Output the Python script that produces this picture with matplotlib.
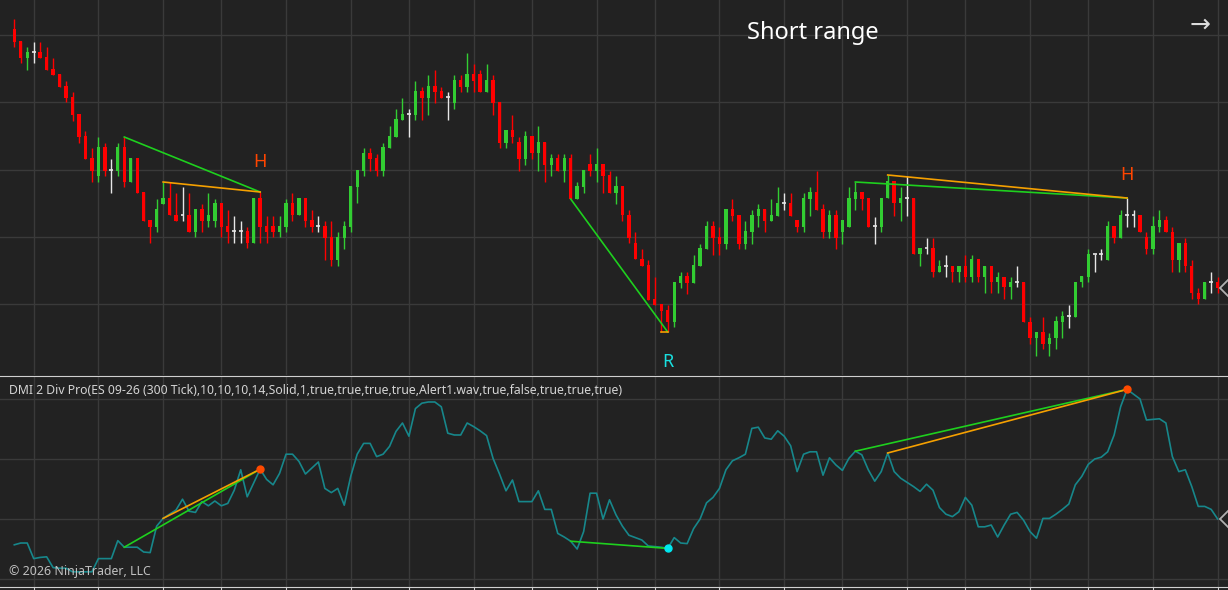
import matplotlib
matplotlib.use("Agg")
import matplotlib.pyplot as plt
import numpy as np

plt.rcParams['font.family'] = ['Noto Sans', 'DejaVu Sans']

# ES 09-26 (300 Tick) bars
opens = [6692.75, 6689.75, 6685.5, 6687, 6687, 6685.75, 6682.75, 6681.5, 6678.5, 6675.75,
         6671.5, 6666, 6660.5, 6656, 6663.25, 6657.5, 6657.25, 6663.25, 6654.5, 6660.5,
         6652, 6645, 6643.25, 6649, 6650.5, 6646.25, 6646.25, 6646.25, 6642, 6647.75,
         6644.75, 6644.75, 6649.25, 6643.5, 6642.25, 6642.25, 6642.25, 6639.25, 6650.5, 6643.5,
         6643.5, 6642, 6643.25, 6649.25, 6646.25, 6650.5, 6645, 6643.5, 6643.5, 6640.75,
         6635, 6640.5, 6643.25, 6653.25, 6657.25, 6661.75, 6660.5, 6657.25, 6663, 6665.75,
         6670, 6671.5, 6671.25, 6677.25, 6675.5, 6678.5, 6677.25, 6675.75, 6674.25, 6680,
         6678.25, 6681.5, 6681.5, 6677, 6680, 6674.5, 6664.25, 6667.5, 6664.5, 6660.25,
         6666, 6661.75, 6664.5, 6658.75, 6660.5, 6657.25, 6660.5, 6650.25, 6653.25, 6659,
         6657.25, 6659, 6656.25, 6651.75, 6653.5, 6646.25, 6639.25, 6635.25, 6633.75, 6625.25,
         6624, 6622.5, 6619.5, 6629.25, 6631, 6629.25, 6633.5, 6637.75, 6643.5, 6640.75,
         6639, 6647.75, 6646.25, 6639, 6642, 6646, 6647.75, 6644.75, 6646, 6649.25,
         6649.25, 6645, 6643.25, 6650.25, 6652, 6647.75, 6642, 6646.25, 6642, 6643.25,
         6650.25, 6652, 6650.5, 6643.5, 6643.25, 6650.5, 6654.75, 6649.25, 6650.5, 6650.5,
         6636.5, 6638, 6638, 6632, 6633.5, 6633.5, 6632, 6633.5, 6630.75, 6635.25,
         6630.75, 6633.5, 6629.5, 6630.75, 6628.25, 6629.5, 6629.5, 6619.5, 6615.5, 6617,
         6614, 6615.5, 6619.5, 6621, 6620.75, 6629.5, 6630.75, 6636.5, 6636.5, 6635,
         6643.5, 6640.5, 6646.25, 6646.25, 6646.25, 6640.75, 6637.75, 6643.25, 6645, 6642,
         6635, 6639.25, 6633.5, 6626.75, 6625.25, 6629.5, 6629.5]
highs = [6695.25, 6689.75, 6688.25, 6689.5, 6689.5, 6688.25, 6685.5, 6681.5, 6679.75, 6677,
         6671.5, 6667.25, 6663, 6665.75, 6664.25, 6660.25, 6664.25, 6665.75, 6660.5, 6660.5,
         6652, 6645, 6650.25, 6654.5, 6654.5, 6651.75, 6653.25, 6651.75, 6647.75, 6649,
         6651.75, 6650.25, 6649.25, 6647.5, 6646, 6644.75, 6643.25, 6650.5, 6652, 6646,
         6646, 6646, 6650.25, 6651.75, 6650.5, 6650.5, 6647.5, 6646, 6644.75, 6644.75,
         6642, 6644.75, 6653.5, 6657.5, 6663, 6663, 6661.5, 6664.25, 6668.5, 6672.75,
         6675.5, 6672.75, 6679.75, 6678.25, 6681.25, 6682.5, 6678.25, 6677, 6681.25, 6681.25,
         6686.75, 6684, 6682.5, 6684, 6681.25, 6674.5, 6667.5, 6671.25, 6665.75, 6667.25,
         6666, 6668.5, 6664.5, 6661.5, 6661.5, 6661.5, 6661.5, 6654.5, 6657.5, 6661.5,
         6663, 6659, 6657.25, 6656, 6653.5, 6647.5, 6642, 6637.75, 6635, 6630.75,
         6624, 6623.75, 6629.5, 6632, 6632, 6636.25, 6639, 6644.75, 6644.75, 6643.25,
         6647.75, 6650.25, 6646.25, 6644.75, 6647.5, 6649, 6647.75, 6650.25, 6653.25, 6651.75,
         6651.75, 6645, 6651.75, 6653.25, 6657.25, 6649, 6647.5, 6647.5, 6645, 6653.25,
         6654.5, 6652, 6650.5, 6645.75, 6650.5, 6656.25, 6654.75, 6653.25, 6656, 6650.5,
         6638, 6640.5, 6640.5, 6635, 6636.25, 6633.5, 6633.5, 6636.25, 6636.25, 6635.25,
         6633.5, 6633.5, 6632, 6630.75, 6630.75, 6633.5, 6629.5, 6620.75, 6617, 6620.75,
         6616.75, 6621, 6622.25, 6623.75, 6629.5, 6631, 6637.75, 6636.5, 6637.75, 6644.75,
         6643.5, 6647.5, 6650.5, 6647.5, 6646.25, 6642, 6646, 6647.5, 6646, 6643.25,
         6639.25, 6640.5, 6635, 6628, 6629.5, 6632, 6630.75]
lows = [6688.25, 6684.25, 6682.5, 6684.25, 6685.5, 6682.5, 6681.25, 6678.25, 6674.5, 6669.75,
        6664.25, 6660.25, 6654.5, 6654.5, 6656, 6651.75, 6656, 6653.25, 6654.5, 6651.75,
        6644.75, 6639.25, 6642, 6649, 6646.25, 6644.75, 6644.75, 6642, 6640.75, 6642,
        6643.25, 6643.25, 6640.75, 6639.25, 6639.25, 6639.25, 6638, 6639.25, 6639.25, 6639.25,
        6640.75, 6640.75, 6642, 6644.75, 6646.25, 6643.25, 6642, 6642, 6635, 6633.5,
        6633.5, 6637.75, 6642, 6649.25, 6656, 6657.25, 6656, 6656, 6663, 6665.75,
        6670, 6665.75, 6670, 6670, 6671.25, 6674.25, 6675.5, 6670, 6672.75, 6677,
        6677, 6677, 6677, 6677, 6671.25, 6663, 6663, 6664.25, 6657.25, 6658.75,
        6660.25, 6657.25, 6654.5, 6656, 6657.25, 6654.5, 6650.25, 6650.25, 6651.75, 6656,
        6654.5, 6651.75, 6651.75, 6649, 6644.75, 6639.25, 6635.25, 6633.5, 6625, 6623.75,
        6617, 6617, 6618.25, 6628, 6626.5, 6629.25, 6633.5, 6637.75, 6636.25, 6636.25,
        6637.75, 6644.75, 6637.75, 6637.75, 6639, 6643.25, 6642, 6644.75, 6646, 6647.5,
        6646, 6642, 6642, 6646, 6647.5, 6640.5, 6640.5, 6637.75, 6639, 6643.25,
        6647.5, 6647.5, 6643.25, 6639, 6642, 6650.5, 6646, 6644.75, 6646, 6636.5,
        6633.5, 6636.5, 6630.75, 6632, 6630.75, 6629.5, 6629.5, 6629.5, 6629.5, 6629.5,
        6626.75, 6626.75, 6626.75, 6625.25, 6625.25, 6628.25, 6619.5, 6614, 6611, 6612.75,
        6611, 6612.75, 6615.5, 6618, 6620.75, 6628.25, 6629.5, 6632, 6635, 6635,
        6639.25, 6640.5, 6643.25, 6643.25, 6642, 6636.5, 6636.5, 6642, 6642, 6632,
        6632, 6632, 6625.25, 6624, 6625.25, 6626.75, 6626.75]
closes = [6689.5, 6685.5, 6687, 6687, 6685.5, 6682.5, 6681.25, 6678.25, 6675.5, 6671.25,
          6665.75, 6660.25, 6657.25, 6663.25, 6657.25, 6657.5, 6663.25, 6654.5, 6660.5, 6651.75,
          6644.75, 6643.25, 6647.75, 6650.5, 6646.25, 6644.75, 6646.25, 6642, 6647.75, 6644.75,
          6646.25, 6649.25, 6643.25, 6642, 6642.25, 6642.25, 6639.25, 6650.5, 6643.25, 6642,
          6642, 6643.5, 6649.25, 6646.25, 6650.5, 6644.75, 6643.25, 6643.5, 6640.5, 6635,
          6640.75, 6643.5, 6653.5, 6657.5, 6661.75, 6660.25, 6657.25, 6663.25, 6666, 6670.25,
          6671.5, 6671.5, 6677.25, 6675.5, 6678.5, 6677, 6675.5, 6675.75, 6680, 6678.25,
          6681.5, 6679.75, 6677, 6680, 6674.25, 6664.25, 6667.5, 6665.75, 6660.25, 6666,
          6661.75, 6664.5, 6658.75, 6660.5, 6657.25, 6660.5, 6650.25, 6653.5, 6657.5, 6657.25,
          6659, 6656, 6651.75, 6653.5, 6646.25, 6640.5, 6635.25, 6633.5, 6625, 6623.75,
          6622.25, 6619.5, 6629.5, 6631, 6629.25, 6633.75, 6638, 6643.5, 6640.5, 6639,
          6647.75, 6646, 6639, 6642.25, 6646.25, 6647.75, 6644.75, 6646.25, 6649.25, 6649.25,
          6646, 6643.25, 6650.5, 6652, 6647.5, 6642, 6646.25, 6640.5, 6645, 6650.5,
          6652, 6650.25, 6643.25, 6643.5, 6650.5, 6654.75, 6649.25, 6650.5, 6650.5, 6636.5,
          6638, 6638, 6632, 6633.5, 6633.5, 6632, 6633.5, 6630.75, 6635.25, 6630.75,
          6633.5, 6629.5, 6630.75, 6628.25, 6629.5, 6629.5, 6619.5, 6615.5, 6617, 6614,
          6615.5, 6619.75, 6621, 6621, 6629.5, 6631, 6636.5, 6636.5, 6636.5, 6643.5,
          6640.5, 6646.25, 6646.25, 6646.25, 6642, 6637.75, 6643.5, 6645, 6642, 6635,
          6639.25, 6633.5, 6626.75, 6625.25, 6629.5, 6629.5, 6628]

# DMI 2 Div Pro line
dmi = [-4.3, -4.0, -4.0, -6.6, -6.4, -6.3, -8.1, -8.2, -8.2, -8.8,
       -8.8, -8.8, -8.8, -6.6, -6.6, -6.6, -3.6, -4.7, -4.7, -4.7,
       -5.5, -5.6, -1.2, 0.1, 0.8, 1.5, 3.3, 1.3, 1.1, 2.9,
       2.2, 3.0, 2.2, 2.6, 4.8, 8.2, 3.7, 6.0, 8.3, 6.6,
       5.7, 7.6, 10.8, 10.8, 9.6, 7.5, 8.5, 9.5, 5.1, 4.4,
       5.1, 2.3, 7.1, 10.8, 12.6, 12.6, 10.4, 10.8, 12.1, 14.6,
       16.0, 13.8, 18.4, 19.3, 19.5, 19.5, 18.7, 14.3, 14.0, 14.0,
       16.0, 15.4, 14.7, 13.9, 10.1, 7.5, 4.7, 6.5, 2.9, 2.9,
       2.9, 4.7, 1.6, 1.6, -2.4, -3.0, -3.7, -5.0, -2.1, 4.3,
       4.3, 0.0, 3.2, 0.7, -1.2, -2.7, -3.1, -3.5, -4.5, -4.6,
       -4.7, -4.9, -3.1, -4.0, -4.1, -1.6, 0.0, 2.7, 3.6, 5.1,
       8.2, 9.7, 10.2, 10.8, 15.1, 15.3, 13.5, 13.3, 14.7, 13.8,
       12.2, 7.9, 10.8, 11.2, 11.2, 7.3, 10.2, 9.0, 8.1, 10.1,
       11.3, 10.7, 8.2, 6.3, 7.9, 11.0, 7.9, 6.8, 6.1, 5.4,
       4.6, 5.8, 4.8, 1.9, 0.8, 0.4, 1.2, 3.6, 2.3, -1.3,
       -1.3, -1.0, -3.0, -1.0, 0.8, 1.1, -0.2, -2.1, -3.2, 0.1,
       0.1, 0.8, 1.6, 2.5, 5.7, 7.1, 9.1, 10.0, 10.3, 11.2,
       14.0, 18.7, 21.6, 20.8, 20.0, 16.5, 16.6, 16.7, 16.0, 10.4,
       7.9, 8.2, 5.4, 2.1, 2.1, 1.6, 0.0]

# divergence lines (start bar, end bar, colour, price side)
price_divs = [(17, 38, 'green', 'high'), (23, 38, 'orange', 'high'),
              (86, 101, 'green', 'low'), (100, 101, 'orange', 'low'),
              (130, 172, 'green', 'high'), (135, 172, 'orange', 'high')]
dmi_divs = [(17, 38, 'green'), (23, 38, 'orange'), (86, 101, 'green'),
            (130, 172, 'green'), (135, 172, 'orange')]
time_grid = [3, 13, 23, 32, 42, 52, 61, 71, 80, 90, 99, 109, 119, 128, 138, 147, 157, 166, 176, 186]
price_grid = [6691.25, 6674.5, 6657.5, 6640.75, 6624]
dmi_grid = [20, 10, 0, -10]

BG = '#222222'
GRID = '#3a3a3a'
UP, DOWN, DOJI = '#32cd32', '#ff0000', '#e6e6e6'
LINE_COLS = {'green': '#1ed01e', 'orange': '#f5a000'}

n = len(closes)
x = np.arange(n)
o, h, l, c = map(np.array, (opens, highs, lows, closes))

fig = plt.figure(figsize=(12.28, 5.90), dpi=100, facecolor=BG)
ax = fig.add_axes([0, 215 / 590, 1, 375 / 590], facecolor=BG)
ax2 = fig.add_axes([0, 3 / 590, 1, 211 / 590], facecolor=BG)

xlim = (-2.21, 187.6)
for a in (ax, ax2):
    a.set_xlim(*xlim)
    a.set_xticks(time_grid)
    a.grid(True, color=GRID, lw=1)
    a.set_axisbelow(True)
    a.tick_params(labelbottom=False, labelleft=False, left=False, bottom=False)
    for s in a.spines.values():
        s.set_visible(False)

ax.set_ylim(6606.25, 6700)
ax.set_yticks(price_grid)
ax2.set_ylim(-11.33, 23.83)
ax2.set_yticks(dmi_grid)

# candles
cols = np.where(c > o, UP, np.where(c < o, DOWN, DOJI))
ax.vlines(x, l, h, colors=cols, lw=1.0, zorder=3)
body = c != o
ax.bar(x[body], np.abs(c - o)[body], bottom=np.minimum(o, c)[body], width=0.52,
       color=cols[body], linewidth=0, zorder=4)
ax.hlines(c[~body], x[~body] - 0.3, x[~body] + 0.3, colors=DOJI, lw=1.2, zorder=4)

for s, e, col, side in price_divs:
    yv = h if side == 'high' else l
    ax.plot([s, e], [yv[s], yv[e]], color=LINE_COLS[col], lw=1.2, zorder=5)

ax.text(38, 6659.5, 'H', color='#ff4500', fontsize=13, ha='center', va='center')
ax.text(172, 6656.25, 'H', color='#ff4500', fontsize=13, ha='center', va='center')
ax.text(101, 6609.5, 'R', color='#19e0e0', fontsize=13, ha='center', va='center')
ax.plot([187.8], [closes[-1]], marker='D', ms=9, mfc=BG, mec='#b0b0b0', mew=1.3, zorder=6)

ax.text(813 / 1228, 1 - 33 / 375, 'Short range', transform=ax.transAxes, color='white',
        fontsize=17, ha='center', va='center')
ax.text(1200 / 1228, 1 - 25 / 375, '\u2192', transform=ax.transAxes, color='#dcdcdc',
        fontsize=18, ha='center', va='center')

# DMI panel
ax2.plot(x, dmi, color='#17878b', lw=1.2, zorder=3)
for s, e, col in dmi_divs:
    ax2.plot([s, e], [dmi[s], dmi[e]], color=LINE_COLS[col], lw=1.2, zorder=4)
ax2.plot([38, 172], [dmi[38], dmi[172]], 'o', color='#ff4a00', ms=5, zorder=5)
ax2.plot([101], [dmi[101]], 'o', color='#00e8f0', ms=5, zorder=5)
ax2.plot([187.8], [dmi[-1]], marker='D', ms=9, mfc=BG, mec='#b0b0b0', mew=1.3, zorder=6)

ax2.spines['top'].set_visible(True)
ax2.spines['top'].set_color('#d0d0d0')
ax2.spines['bottom'].set_visible(True)
ax2.spines['bottom'].set_color('#d0d0d0')
ax2.tick_params(axis='x', bottom=True, direction='out', length=4, color='#d0d0d0')

ax2.text(9 / 1228, 1 - 14 / 211, 'DMI 2 Div Pro(ES 09-26 (300 Tick),10,10,10,14,Solid,1,true,true,true,true,'
         'Alert1.wav,true,false,true,true,true)', transform=ax2.transAxes, color='#d4d4d4',
         fontsize=8.8, ha='left', va='center')
ax2.text(9 / 1228, 1 - 195 / 211, '\u00a9 2026 NinjaTrader, LLC', transform=ax2.transAxes,
         color='#c0c0c0', fontsize=8.9, ha='left', va='center')

fig.savefig('out.png', dpi=100, facecolor=BG)
